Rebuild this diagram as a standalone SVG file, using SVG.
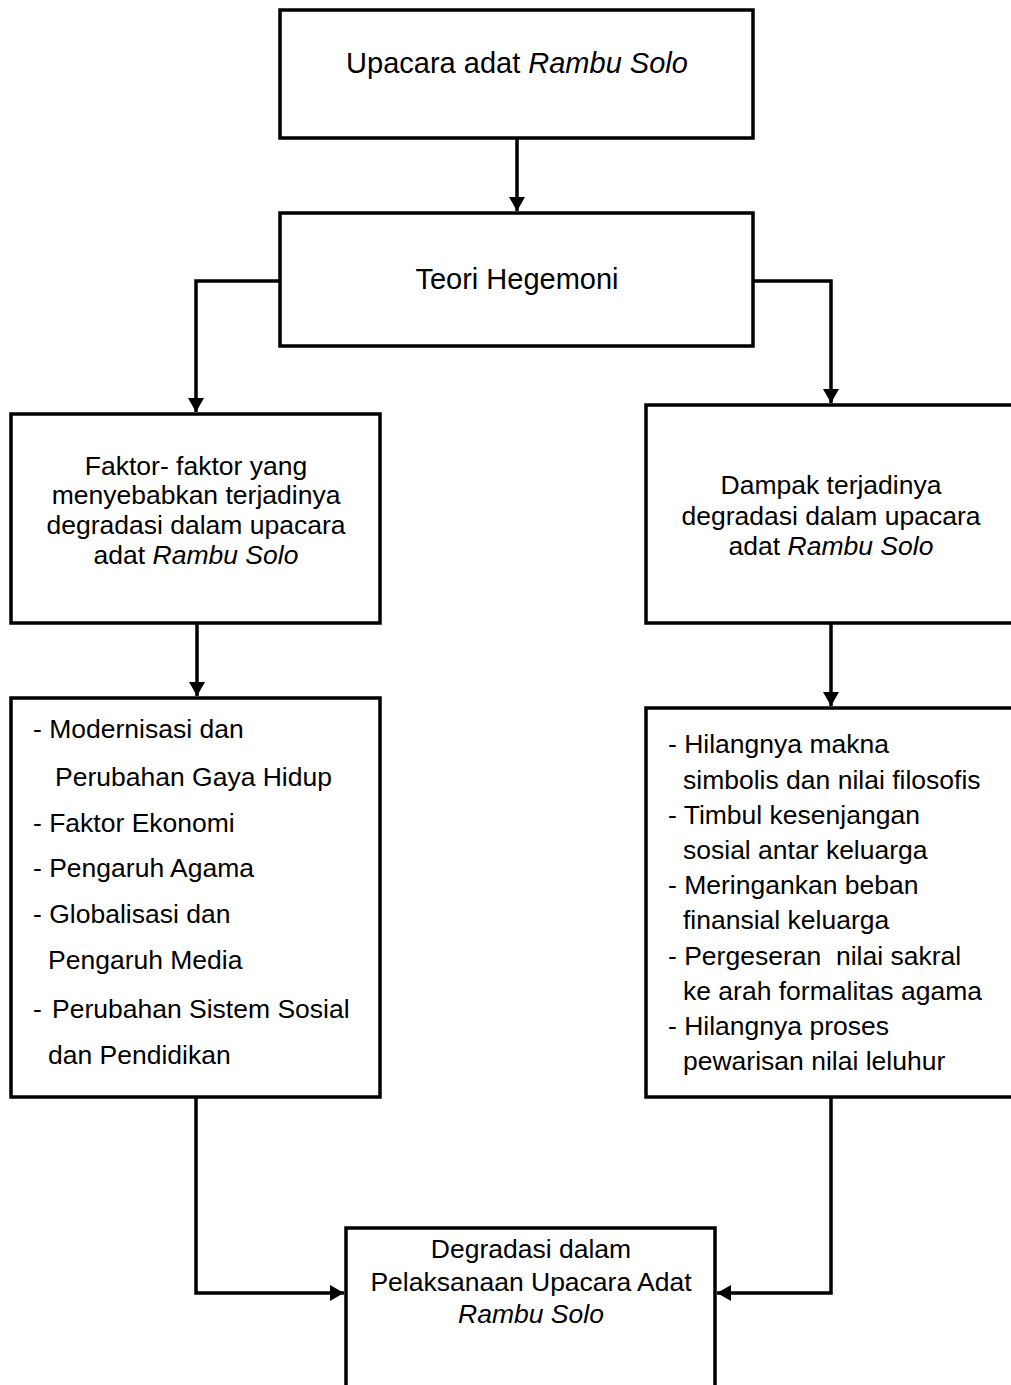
<svg xmlns="http://www.w3.org/2000/svg" width="1011" height="1385" viewBox="0 0 1011 1385">
<style>
.box{fill:#fff;stroke:#000;stroke-width:3.5}
.t{font-family:"Liberation Sans",Arial,sans-serif;font-size:26.5px;fill:#000}
.big{font-size:29px}
.c{text-anchor:middle}
.i{font-style:italic}
.ln{fill:none;stroke:#000;stroke-width:3.5}
</style>
<defs>
<marker id="ah" markerUnits="userSpaceOnUse" markerWidth="14" markerHeight="16" viewBox="0 0 14 16" refX="14" refY="8" orient="auto">
<path d="M0,0 L14,8 L0,16 Z" fill="#000"/>
</marker>
</defs>
<rect width="1011" height="1385" fill="#fff"/>
<g id="connectors">
<path class="ln" d="M517,138 V211" marker-end="url(#ah)"/>
<path class="ln" d="M280,281 H196 V412" marker-end="url(#ah)"/>
<path class="ln" d="M753,281 H831 V403" marker-end="url(#ah)"/>
<path class="ln" d="M197,623 V696" marker-end="url(#ah)"/>
<path class="ln" d="M831,623 V706" marker-end="url(#ah)"/>
<path class="ln" d="M196,1097 V1293 H344" marker-end="url(#ah)"/>
<path class="ln" d="M831,1097 V1293 H717" marker-end="url(#ah)"/>
</g>
<g id="n1">
<rect class="box" x="280" y="10" width="473" height="128"/>
<text class="t big c" x="517" y="73">Upacara adat <tspan class="i">Rambu Solo</tspan></text>
</g>
<g id="n2">
<rect class="box" x="280" y="213" width="473" height="133"/>
<text class="t big c" x="517" y="289">Teori Hegemoni</text>
</g>
<g id="n3">
<rect class="box" x="11" y="414" width="369" height="209"/>
<text class="t c" x="196" y="475">Faktor- faktor yang</text>
<text class="t c" x="196" y="504">menyebabkan terjadinya</text>
<text class="t c" x="196" y="534">degradasi dalam upacara</text>
<text class="t c" x="196" y="564">adat <tspan class="i">Rambu Solo</tspan></text>
</g>
<g id="n4">
<rect class="box" x="646" y="405" width="380" height="218"/>
<text class="t c" x="831" y="494">Dampak terjadinya</text>
<text class="t c" x="831" y="525">degradasi dalam upacara</text>
<text class="t c" x="831" y="555">adat <tspan class="i">Rambu Solo</tspan></text>
</g>
<g id="n5">
<rect class="box" x="11" y="698" width="369" height="399"/>
<text class="t" x="33" y="738">- Modernisasi dan</text>
<text class="t" x="55" y="786">Perubahan Gaya Hidup</text>
<text class="t" x="33" y="832">- Faktor Ekonomi</text>
<text class="t" x="33" y="877">- Pengaruh Agama</text>
<text class="t" x="33" y="923">- Globalisasi dan</text>
<text class="t" x="48" y="969">Pengaruh Media</text>
<text class="t" x="33" y="1018">- <tspan x="52">Perubahan Sistem Sosial</tspan></text>
<text class="t" x="48" y="1064">dan Pendidikan</text>
</g>
<g id="n6">
<rect class="box" x="646" y="708" width="380" height="389"/>
<text class="t" x="668" y="753">- Hilangnya makna</text>
<text class="t" x="683" y="789">simbolis dan nilai filosofis</text>
<text class="t" x="668" y="824">- Timbul kesenjangan</text>
<text class="t" x="683" y="859">sosial antar keluarga</text>
<text class="t" x="668" y="894">- Meringankan beban</text>
<text class="t" x="683" y="929">finansial keluarga</text>
<text class="t" x="668" y="965" style="white-space:pre">- Pergeseran  nilai sakral</text>
<text class="t" x="683" y="1000">ke arah formalitas agama</text>
<text class="t" x="668" y="1035">- Hilangnya proses</text>
<text class="t" x="683" y="1070">pewarisan nilai leluhur</text>
</g>
<g id="n7">
<rect class="box" x="346" y="1228" width="369" height="170"/>
<text class="t c" x="531" y="1258">Degradasi dalam</text>
<text class="t c" x="531" y="1291">Pelaksanaan Upacara Adat</text>
<text class="t c i" x="531" y="1323">Rambu Solo</text>
</g>
</svg>
